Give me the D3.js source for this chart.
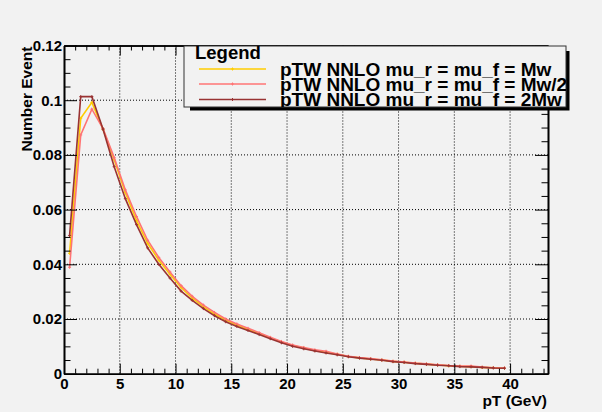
<!DOCTYPE html>
<html>
<head>
<meta charset="utf-8">
<script src="https://cdn.jsdelivr.net/npm/d3@7"></script>
<style>
  body { margin: 0; background: #f2f2f2; }
  text { font-family: "Liberation Sans", Arial, sans-serif; font-weight: bold; fill: #000; }
  .grid line { stroke: #000; stroke-width: 1; stroke-dasharray: 1,2; }
  .axis path, .axis line { stroke: #000; }
</style>
</head>
<body>
<script>
// bin centres of pT (GeV)
var pt = d3.range(0, 40).map(function (i) { return i + 0.5; });

// pTW NNLO mu_r = mu_f = Mw
var central = [0.0440, 0.0934, 0.0992, 0.0894, 0.0782, 0.0662, 0.0560, 0.0477, 0.0415, 0.0364,
               0.0315, 0.0276, 0.0245, 0.0218, 0.0196, 0.0178, 0.0162, 0.0147, 0.0131, 0.0116,
               0.0103, 0.0094, 0.0085, 0.0078, 0.0071, 0.0063, 0.0058, 0.0054, 0.0050, 0.0045,
               0.0042, 0.0038, 0.0035, 0.0032, 0.0029, 0.0027, 0.0026, 0.0023, 0.0022, 0.0020];
// pTW NNLO mu_r = mu_f = Mw/2
var half = [0.0389, 0.0873, 0.0967, 0.0896, 0.0790, 0.0672, 0.0575, 0.0488, 0.0425, 0.0372,
            0.0322, 0.0283, 0.0251, 0.0224, 0.0200, 0.0182, 0.0166, 0.0150, 0.0133, 0.0118,
            0.0105, 0.0096, 0.0087, 0.0082, 0.0072, 0.0064, 0.0059, 0.0055, 0.0051, 0.0046,
            0.0043, 0.0039, 0.0036, 0.0033, 0.0030, 0.0028, 0.0028, 0.0024, 0.0022, 0.0021];
// pTW NNLO mu_r = mu_f = 2Mw
var twice = [0.0505, 0.1013, 0.1013, 0.0894, 0.0757, 0.0640, 0.0545, 0.0460, 0.0400, 0.0350,
             0.0302, 0.0268, 0.0238, 0.0212, 0.0190, 0.0173, 0.0158, 0.0143, 0.0128, 0.0113,
             0.0100, 0.0091, 0.0083, 0.0076, 0.0069, 0.0062, 0.0057, 0.0053, 0.0049, 0.0044,
             0.0041, 0.0037, 0.0034, 0.0031, 0.0029, 0.0026, 0.0025, 0.0023, 0.0021, 0.0020];

var seriesNames = ["pTW NNLO mu_r = mu_f = Mw", "pTW NNLO mu_r = mu_f = Mw/2", "pTW NNLO mu_r = mu_f = 2Mw"];
var seriesColors = ["#ffcc00", "#ff7474", "#993333"];

var xTicks = [0, 5, 10, 15, 20, 25, 30, 35, 40];
var yTicks = [0, 0.02, 0.04, 0.06, 0.08, 0.1, 0.12];
var yLabels = ["0", "0.02", "0.04", "0.06", "0.08", "0.1", "0.12"];

var W = 602, H = 412;
var frame = { left: 64, right: 548, top: 45.5, bottom: 373.7 };

var svg = d3.select("body").append("svg")
    .attr("width", W)
    .attr("height", H);

svg.append("rect").attr("width", W).attr("height", H).attr("fill", "#f2f2f2");

var x = d3.scaleLinear().domain([0, 43.4]).range([frame.left, frame.right]);
var y = d3.scaleLinear().domain([0, 0.12]).range([frame.bottom, frame.top]);

var xMinor = d3.range(0, 44, 1).filter(function (d) { return d % 5 != 0; });
var yMinor = d3.range(0, 25).map(function (i) { return i * 0.005; })
    .filter(function (d, i) { return i % 4 != 0; });

// grid
var grid = svg.append("g").attr("class", "grid");
grid.selectAll(".gx").data(xTicks.slice(1)).enter().append("line")
    .attr("x1", function (d) { return x(d); }).attr("x2", function (d) { return x(d); })
    .attr("y1", frame.top).attr("y2", frame.bottom);
grid.selectAll(".gy").data(yTicks.slice(1, -1)).enter().append("line")
    .attr("x1", frame.left).attr("x2", frame.right)
    .attr("y1", function (d) { return y(d); }).attr("y2", function (d) { return y(d); });

// curves
var line = d3.line()
    .x(function (d) { return x(d[0]); })
    .y(function (d) { return y(d[1]); });

[central, half, twice].forEach(function (vals, k) {
    var pts = pt.map(function (p, i) { return [p, vals[i]]; });
    svg.append("path")
        .datum(pts)
        .attr("fill", "none")
        .attr("stroke", seriesColors[k])
        .attr("stroke-width", 1.6)
        .attr("d", line);
    svg.append("g").selectAll("path").data(pts).enter().append("path")
        .attr("transform", function (d) { return "translate(" + x(d[0]) + "," + y(d[1]) + ")"; })
        .attr("d", "M-1.5,0h3M0,-1.5v3")
        .attr("stroke", seriesColors[k])
        .attr("stroke-width", 1);
});

// axes
function addAxis(axis, tr) {
    var g = svg.append("g").attr("class", "axis").attr("transform", tr).call(axis);
    g.select(".domain").attr("stroke-width", 1.6);
    g.selectAll("text").style("font-size", "15px").attr("font-family", null);
    return g;
}

addAxis(d3.axisBottom(x).tickValues(xTicks).tickSize(-10).tickSizeOuter(0).tickPadding(5)
    .tickFormat(d3.format("d")), "translate(0," + frame.bottom + ")");
addAxis(d3.axisBottom(x).tickValues(xMinor).tickSize(-5).tickSizeOuter(0).tickFormat(""),
    "translate(0," + frame.bottom + ")");
addAxis(d3.axisTop(x).tickValues(xTicks).tickSize(-10).tickSizeOuter(0).tickFormat(""),
    "translate(0," + frame.top + ")");
addAxis(d3.axisTop(x).tickValues(xMinor).tickSize(-5).tickSizeOuter(0).tickFormat(""),
    "translate(0," + frame.top + ")");
addAxis(d3.axisLeft(y).tickValues(yTicks).tickSize(-13).tickSizeOuter(0).tickPadding(2)
    .tickFormat(function (d, i) { return yLabels[i]; }), "translate(" + frame.left + ",0)");
addAxis(d3.axisLeft(y).tickValues(yMinor).tickSize(-6.5).tickSizeOuter(0).tickFormat(""),
    "translate(" + frame.left + ",0)");
addAxis(d3.axisRight(y).tickValues(yTicks).tickSize(-13).tickSizeOuter(0).tickFormat(""),
    "translate(" + frame.right + ",0)");
addAxis(d3.axisRight(y).tickValues(yMinor).tickSize(-6.5).tickSizeOuter(0).tickFormat(""),
    "translate(" + frame.right + ",0)");

// axis titles
svg.append("text")
    .attr("x", frame.right - 1).attr("y", 405.5)
    .attr("text-anchor", "end")
    .style("font-size", "15.5px")
    .text("pT (GeV)");

svg.append("text")
    .attr("transform", "translate(32," + (frame.top + 1) + ") rotate(-90)")
    .attr("text-anchor", "end")
    .style("font-size", "15.5px")
    .text("Number Event");

// legend
var lg = { x: 184, y: 46, w: 382, h: 61 };
svg.append("rect")
    .attr("x", lg.x + 6).attr("y", lg.y + 5)
    .attr("width", lg.w - 2.5).attr("height", lg.h - 1.5)
    .attr("fill", "#000");
svg.append("clipPath").attr("id", "legclip")
    .append("rect").attr("x", lg.x).attr("y", lg.y).attr("width", lg.w).attr("height", lg.h);
svg.append("rect")
    .attr("x", lg.x).attr("y", lg.y).attr("width", lg.w).attr("height", lg.h)
    .attr("fill", "#f2f2f2").attr("stroke", "#333").attr("stroke-width", 1);

var legG = svg.append("g").attr("clip-path", "url(#legclip)");
legG.append("text")
    .attr("x", 195).attr("y", 58.5)
    .style("font-size", "18.5px")
    .text("Legend");

var rowY = [69, 84, 99.5];
seriesNames.forEach(function (name, k) {
    legG.append("line")
        .attr("x1", 199).attr("x2", 266)
        .attr("y1", rowY[k]).attr("y2", rowY[k])
        .attr("stroke", seriesColors[k]).attr("stroke-width", 1.6);
    legG.append("path")
        .attr("transform", "translate(232.5," + rowY[k] + ")")
        .attr("d", "M-1.5,0h3M0,-1.5v3")
        .attr("stroke", seriesColors[k]);
    legG.append("text")
        .attr("x", 280).attr("y", rowY[k] + 6.5)
        .style("font-size", "19px")
        .text(name);
});
</script>
</body>
</html>
